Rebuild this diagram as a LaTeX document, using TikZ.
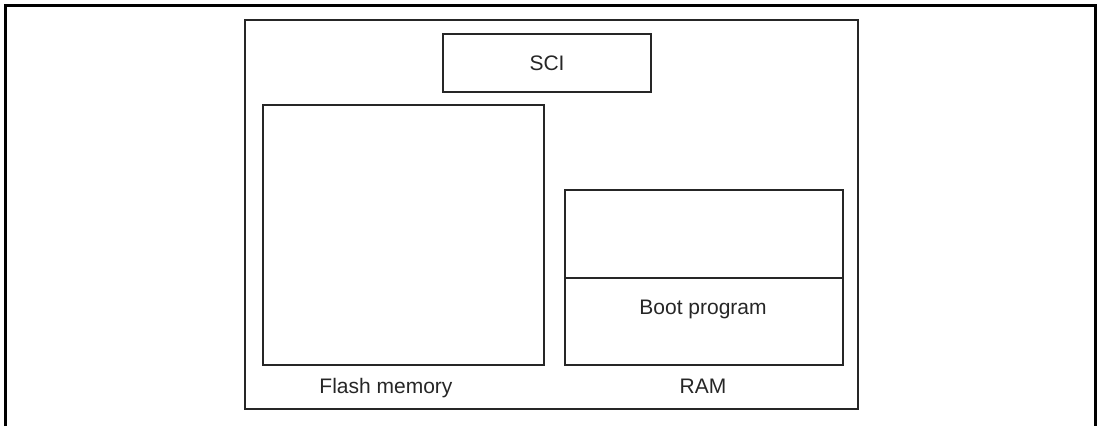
\documentclass[tikz,border=0pt]{standalone}
\usepackage{fontspec}
\setmainfont{Liberation Sans}
\begin{document}
\begin{tikzpicture}[x=1pt,y=-1pt,
  blk/.style={draw=black!85,line width=1.6pt,inner sep=0pt},
  lbl/.style={font=\fontsize{21}{25}\selectfont,text=black!85,inner sep=0pt}]
\useasboundingbox (0,0) rectangle (1098,426);
% outer frame (bottom edge cut off)
\draw[line width=3pt] (5.5,426) -- (5.5,5.5) -- (1095.5,5.5) -- (1095.5,426);
% chip
\node[blk,minimum width=613pt,minimum height=389pt] (chip) at (551.5,214.5) {};
% SCI
\node[blk,minimum width=208pt,minimum height=58pt] (sci) at (547,63) {};
\node[lbl] at (sci.center) {SCI};
% Flash memory
\node[blk,minimum width=281pt,minimum height=260pt] (flash) at (403.5,235) {};
\node[lbl,anchor=base] (flashlbl) at (386,393.5) {Flash memory};
% RAM
\node[blk,minimum width=278pt,minimum height=175pt] (ram) at (704,277.5) {};
\coordinate (divl) at (565,278);
\coordinate (divr) at (843,278);
\draw[draw=black!85,line width=1.6pt] (divl) -- (divr);
\node[lbl] (boot) at (703,309) {Boot program};
\node[lbl,anchor=base] (ramlbl) at (703,393.5) {RAM};
\end{tikzpicture}
\end{document}
